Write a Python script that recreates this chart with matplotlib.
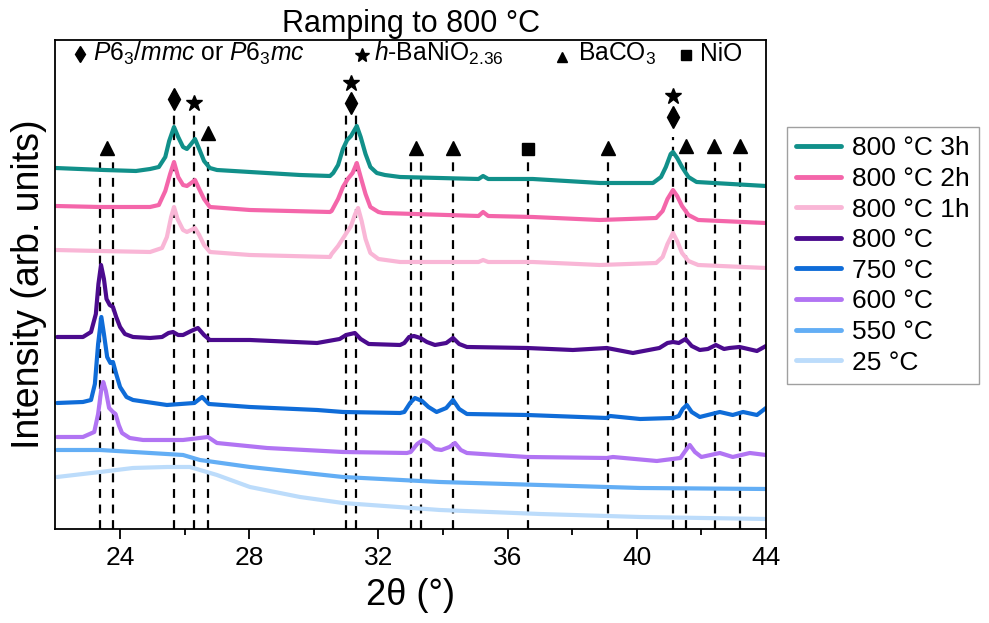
import matplotlib
matplotlib.use("Agg")
import matplotlib.pyplot as plt

plt.rcParams['font.family'] = ['Liberation Sans', 'DejaVu Sans']
plt.rcParams['mathtext.fontset'] = 'custom'
plt.rcParams['mathtext.rm'] = 'Liberation Sans'
plt.rcParams['mathtext.it'] = 'Liberation Sans:italic'
plt.rcParams['mathtext.bf'] = 'Liberation Sans:bold'

# ---------------- data (2theta in degrees, intensity in arb. units incl. offset) ----------------
labels = ["800 °C 3h", "800 °C 2h", "800 °C 1h", "800 °C", "750 °C", "600 °C", "550 °C", "25 °C"]
colors = ["#11908a", "#f466aa", "#f9b6d6", "#4b0b8e", "#0f6cd8", "#b174f3", "#63aef5", "#bcdcfb"]

x_3h = [22.0, 23.5, 24.49, 24.93, 25.2, 25.4, 25.52, 25.67, 25.8, 25.95, 26.07, 26.2, 26.32, 26.45,
        26.6, 26.78, 27.0, 28.02, 29.57, 30.5, 30.6, 30.75, 30.9, 31.03, 31.15, 31.33, 31.45, 31.6,
        31.75, 31.95, 32.2, 32.67, 35.1, 35.24, 35.4, 36.78, 38.86, 40.5, 40.75, 40.9, 41.05, 41.12,
        41.25, 41.4, 41.6, 41.85, 44.0]
y_3h = [361, 359, 358, 360, 362, 372, 388, 402, 392, 382, 380, 385, 390, 380,
        368, 361, 359, 357, 354, 353, 356, 364, 380, 389, 393, 403, 392, 375,
        362, 356, 354, 352, 350, 353, 350, 350, 346, 346, 352, 362, 375, 377,
        371, 362, 352, 347, 343]

x_2h = [22.0, 23.38, 24.93, 25.2, 25.4, 25.55, 25.67, 25.8, 25.95, 26.07, 26.2, 26.32, 26.45, 26.6,
        26.78, 28.02, 30.5, 30.55, 30.75, 30.9, 31.05, 31.2, 31.33, 31.45, 31.6, 31.75, 32.0, 32.14,
        35.1, 35.24, 35.4, 36.78, 38.86, 40.6, 40.8, 40.95, 41.12, 41.25, 41.4, 41.6, 41.9, 44.0]
y_2h = [323, 322, 322, 324, 338, 355, 367, 352, 344, 343, 346, 349, 340, 330,
        322, 319, 317, 318, 330, 342, 350, 356, 366, 352, 335, 322, 317, 316,
        313, 317, 313, 312, 309, 311, 318, 330, 339, 333, 323, 314, 309, 306]

x_1h = [22.0, 23.38, 24.93, 25.3, 25.45, 25.58, 25.67, 25.78, 25.95, 26.07, 26.2, 26.32, 26.45, 26.6,
        26.78, 28.02, 30.5, 30.55, 30.75, 30.95, 31.15, 31.28, 31.37, 31.48, 31.6, 31.75, 32.0, 32.67,
        35.1, 35.24, 35.4, 36.78, 38.86, 40.6, 40.8, 40.95, 41.12, 41.25, 41.4, 41.6, 41.9, 44.0]
y_1h = [279, 278, 277, 281, 292, 312, 322, 310, 299, 297, 299, 301, 294, 284,
        277, 274, 272, 275, 283, 293, 303, 315, 321, 308, 290, 276, 270, 267,
        267, 269, 267, 267, 264, 266, 272, 285, 296, 288, 276, 268, 264, 261]

x_800 = [22.05, 22.85, 23.1, 23.25, 23.33, 23.41, 23.5, 23.58, 23.68, 23.78, 23.88, 24.0, 24.15,
         24.4, 24.93, 25.3, 25.5, 25.64, 25.8, 25.95, 26.2, 26.41, 26.6, 26.78, 28.02, 30.1, 30.8,
         31.0, 31.27, 31.45, 31.7, 32.67, 32.8, 32.95, 33.1, 33.3, 33.5, 33.75, 34.1, 34.31, 34.5,
         34.74, 36.6, 38.02, 39.07, 39.88, 40.7, 40.95, 41.12, 41.3, 41.51, 41.7, 41.95, 42.2, 42.45,
         42.7, 42.87, 43.18, 43.72, 44.0]
y_800 = [192, 192, 197, 215, 245, 264, 250, 230, 224, 222, 212, 202, 195,
         192, 191, 192, 196, 197, 194, 194, 198, 201, 194, 189, 189, 186, 190,
         194, 196, 190, 185, 184, 186, 192, 193, 191, 187, 184, 186, 191, 185,
         182, 181, 179, 181, 176, 181, 186, 187, 186, 190, 183, 179, 180, 184,
         180, 181, 182, 178, 183]

x_750 = [22.05, 22.85, 23.1, 23.22, 23.32, 23.42, 23.5, 23.6, 23.7, 23.78, 23.88, 24.0, 24.2, 24.4,
         25.45, 26.3, 26.54, 26.75, 28.02, 30.1, 30.9, 32.67, 32.8, 32.98, 33.13, 33.35, 33.55, 33.8,
         34.1, 34.31, 34.5, 34.74, 36.6, 39.07, 39.17, 40.1, 41.12, 41.3, 41.42, 41.55, 41.7, 41.95,
         42.57, 42.97, 43.29, 43.72, 44.0]
y_750 = [126, 127, 129, 145, 185, 212, 195, 172, 166, 167, 155, 142, 132, 129,
         124, 126, 132, 125, 122, 119, 117, 116, 117, 126, 131, 128, 122, 117,
         121, 129, 120, 115, 114, 111, 113, 110, 111, 113, 120, 124, 117, 112,
         117, 114, 117, 114, 121]

x_600 = [22.05, 22.85, 23.2, 23.32, 23.42, 23.48, 23.56, 23.66, 23.78, 23.86, 23.96, 24.06, 24.3,
         24.71, 25.95, 26.72, 27.0, 28.55, 30.9, 32.88, 33.0, 33.2, 33.38, 33.55, 33.75, 33.95, 34.2,
         34.37, 34.55, 34.74, 36.6, 39.07, 39.26, 40.62, 41.35, 41.5, 41.64, 41.8, 42.0, 42.57, 42.97,
         43.5, 44.0]
y_600 = [92, 92, 97, 115, 140, 147, 138, 121, 117, 115, 104, 96, 91,
         89, 89, 92, 86, 81, 77, 76, 77, 85, 89, 86, 80, 79, 82,
         86, 79, 76, 72, 71, 72, 68, 71, 78, 84, 77, 72, 76, 72,
         76, 74]

x_550 = [22.05, 23.38, 24.93, 25.95, 26.47, 28.02, 30.9, 33.9, 37.0, 40.1, 44.0]
y_550 = [79, 79, 76, 74, 69, 62, 52, 47, 44, 41, 40]

x_25 = [22.05, 23.38, 24.4, 25.45, 26.16, 27.0, 28.02, 29.57, 30.9, 33.9, 37.0, 40.1, 44.0]
y_25 = [52, 57, 61, 62, 62, 54, 42, 32, 26, 19, 15, 12, 10]

series_x = [x_3h, x_2h, x_1h, x_800, x_750, x_600, x_550, x_25]
series_y = [y_3h, y_2h, y_1h, y_800, y_750, y_600, y_550, y_25]

# reference (dashed) lines: position and top
ref_pos = [23.39, 23.78, 25.67, 26.29, 26.72, 30.99, 31.30, 33.0, 33.31, 34.32, 36.62, 39.11,
           41.11, 41.51, 42.42, 43.19]
ref_top = [369, 369, 417, 417, 386, 416, 416, 369, 369, 369, 369, 369,
           392, 369, 369, 369]

# phase markers above the reflections
tri_x = [23.58, 26.72, 33.16, 34.32, 39.1, 41.53, 42.4, 43.19]
tri_y = [381, 396, 381, 381, 381, 383, 383, 383]
dia_x = [25.67, 31.15, 41.11]
dia_y = [430, 426, 412]
star_x = [26.29, 31.15, 41.11]
star_y = [426, 446, 433]
sq_x = [36.62]
sq_y = [380]

xticks = [24, 28, 32, 36, 40, 44]
minor_xticks = [26, 30, 34, 38, 42]

# ---------------- figure ----------------
fig = plt.figure(figsize=(9.89, 6.23), dpi=100)
ax = fig.add_axes([0.0561, 0.1509, 0.7184, 0.7849])

ax.vlines(ref_pos, 0, ref_top, colors='black', linestyles=(0, (4, 3)), linewidth=1.6, zorder=1)

handles = []
for xs, ys, c, lab in zip(series_x, series_y, colors, labels):
    h, = ax.plot(xs, ys, color=c, lw=3.0, label=lab, zorder=2,
                 solid_joinstyle='round', solid_capstyle='round')
    handles.append(h)

ax.plot(tri_x, tri_y, '^', color='black', ms=10, ls='none', zorder=3)
ax.plot(dia_x, dia_y, 'd', color='black', ms=11, ls='none', zorder=3)
ax.plot(star_x, star_y, '*', color='black', ms=12, ls='none', zorder=3)
ax.plot(sq_x, sq_y, 's', color='black', ms=9, ls='none', zorder=3)

ax.set_xlim(22, 44)
ax.set_ylim(0, 489)
ax.set_xticks(xticks)
ax.set_xticks(minor_xticks, minor=True)
ax.set_yticks([])
ax.tick_params(axis='x', which='major', direction='out', length=7, width=1.3, labelsize=19, pad=5)
ax.tick_params(axis='x', which='minor', direction='out', length=4, width=1.3)
for s in ax.spines.values():
    s.set_linewidth(1.3)

ax.set_xlabel("2θ (°)", fontsize=26, labelpad=6)
ax.set_ylabel("Intensity (arb. units)", fontsize=27, labelpad=6)
ax.set_title("Ramping to 800 °C", fontsize=22, pad=6)

# key row along the top
kt = ax.transAxes
ax.plot([0.0345], [0.972], 'd', color='black', ms=8, transform=kt, clip_on=False)
ax.text(0.0528, 0.972, r"$\mathit{P}6_3/\mathit{mmc}$ or $\mathit{P}6_3\mathit{mc}$", transform=kt,
        fontsize=17.7, va='center', ha='left')
ax.plot([0.431], [0.970], '*', color='black', ms=10, transform=kt, clip_on=False)
ax.text(0.448, 0.972, r"$\mathit{h}$-BaNiO$_{2.36}$", transform=kt, fontsize=17.7, va='center', ha='left')
ax.plot([0.713], [0.966], '^', color='black', ms=7, transform=kt, clip_on=False)
ax.text(0.735, 0.972, r"BaCO$_3$", transform=kt, fontsize=17.7, va='center', ha='left')
ax.plot([0.887], [0.969], 's', color='black', ms=7, transform=kt, clip_on=False)
ax.text(0.907, 0.972, "NiO", transform=kt, fontsize=17.7, va='center', ha='left')

leg = fig.legend(handles=handles, loc='upper left', bbox_to_anchor=(0.7958, 0.796),
                 fontsize=19, frameon=True, fancybox=False, edgecolor='#888888',
                 handlelength=1.7, handletextpad=0.4, labelspacing=0.25, borderpad=0.35,
                 borderaxespad=0)
leg.get_frame().set_linewidth(1.0)
for lh in leg.get_lines():
    lh.set_linewidth(3.5)

fig.savefig("out.png", dpi=100)
